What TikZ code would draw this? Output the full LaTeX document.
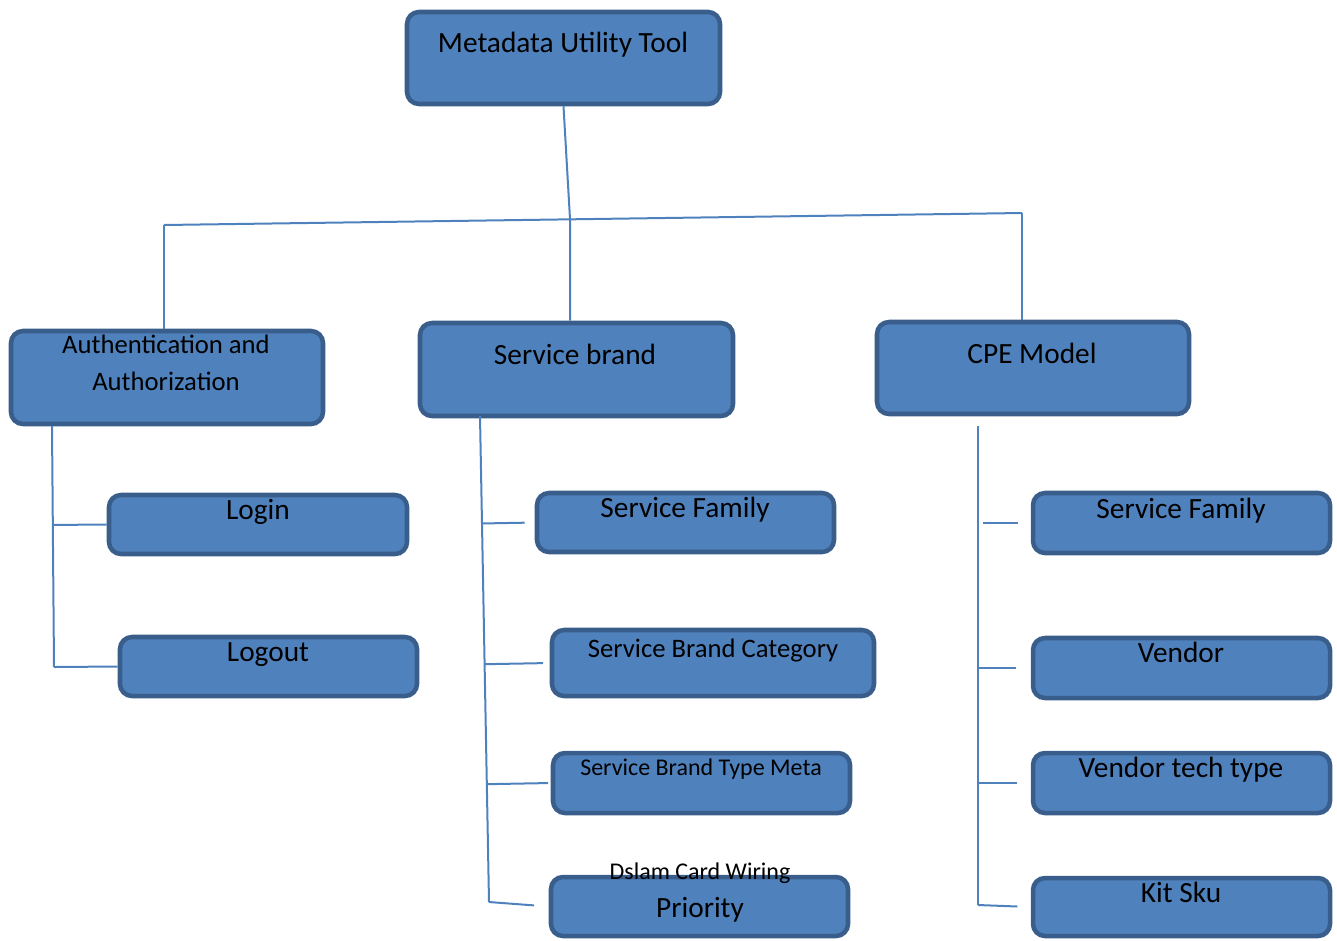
\documentclass[tikz,border=0pt]{standalone}
\usepackage{fontspec}
\setmainfont{Carlito}
\usetikzlibrary{fit,calc}
\definecolor{boxfill}{HTML}{4F81BD}
\definecolor{boxline}{HTML}{3A5E8C}
\definecolor{linkblue}{HTML}{4F81BD}
\tikzset{bbox/.style={
    rectangle,
    draw=boxline,
    fill=boxfill,
    line width=3.4pt,
    rounded corners=9pt,
    inner sep=0pt
  },
  btext/.style={anchor=base,inner sep=0pt,font=\fontsize{22}{26}\selectfont},
  mtext/.style={btext,font=\fontsize{20}{27.75}\selectfont},
  stext/.style={btext,font=\fontsize{18}{22}\selectfont},
  link/.style={draw=linkblue,line width=1.5pt},
}
\begin{document}
\begin{tikzpicture}[x=0.75pt,y=-0.75pt]
  \useasboundingbox (0,0) rectangle (1337,940);
  % boxes
  \node [bbox,fit={(407,12) (720,104)}] (mut) {};
  \node [bbox,fit={(11,331) (323,424)}] (auth) {};
  \node [bbox,fit={(420,323) (733,416)}] (sb) {};
  \node [bbox,fit={(877,322) (1189,414)}] (cpe) {};
  \node [bbox,fit={(109,495) (407,554)}] (login) {};
  \node [bbox,fit={(120,637) (417,696)}] (logout) {};
  \node [bbox,fit={(537,493) (834,552)}] (sf) {};
  \node [bbox,fit={(552,630) (874,696)}] (sbc) {};
  \node [bbox,fit={(553,753) (850,813)}] (sbt) {};
  \node [bbox,fit={(551,877) (848,936)}] (prio) {};
  \node [bbox,fit={(1033,493) (1330,553)}] (cpesf) {};
  \node [bbox,fit={(1033,638) (1330,698)}] (vendor) {};
  \node [bbox,fit={(1033,753) (1330,813)}] (vtt) {};
  \node [bbox,fit={(1033,878) (1330,936)}] (kitsku) {};
  % labels
  \node [btext] (mutlabel) at (563,52) {Metadata Utility Tool};
  \node [mtext,align=center] (authlabel) at (166,390) {Authentication and\\Authorization};
  \node [btext] (sblabel) at (575,364) {Service brand};
  \node [btext] (cpelabel) at (1032,363) {CPE Model};
  \node [btext] (loginlabel) at (258,519) {Login};
  \node [btext] (logoutlabel) at (268,661) {Logout};
  \node [btext] (sflabel) at (685,517) {Service Family};
  \node [mtext] (sbclabel) at (713,657) {Service Brand Category};
  \node [stext] (sbtlabel) at (701,775) {Service Brand Type Meta};
  \node [stext] (dslamlabel) at (700,879) {Dslam Card Wiring};
  \node [btext] (priolabel) at (700,917) {Priority};
  \node [btext] (cpesflabel) at (1181,518) {Service Family};
  \node [btext] (vendorlabel) at (1181,662) {Vendor};
  \node [btext] (vttlabel) at (1181,777) {Vendor tech type};
  \node [btext] (kitskulabel) at (1181,902) {Kit Sku};
  % top level
  \coordinate (jl) at (164,225);
  \coordinate (jm) at (570,219);
  \coordinate (jr) at (1022,213);
  \draw[link] (mut.south) -- (jm) -- (jm |- sb.north);
  \draw[link] (jl) -- (jr);
  \draw[link] (jl) -- (jl |- auth.north);
  \draw[link] (jr) -- (jr |- cpe.north);
  % authentication branch
  \coordinate (atop) at (52,426);
  \coordinate (abot) at (54,667);
  \draw[link] (atop) -- (abot);
  \draw[link] ($(atop)!(login.west)!(abot)$) -- (login.west);
  \draw[link] (abot) -- (logout.west);
  % service brand branch
  \coordinate (stop) at (480,416);
  \coordinate (sbot) at (489,902);
  \draw[link] (stop) -- (sbot);
  \draw[link,shorten >=7.5pt] ($(stop)!(sf.west)!(sbot)$) -- (sf.west);
  \draw[link,shorten >=5pt] ($(stop)!(sbc.west)!(sbot)$) -- (sbc.west);
  \draw[link,shorten >=2pt] ($(stop)!(sbt.west)!(sbot)$) -- (sbt.west);
  \draw[link,shorten >=11pt] (sbot) -- (prio.west);
  % cpe branch
  \coordinate (ctop) at (978,426);
  \coordinate (cbot) at (978,905);
  \draw[link] (ctop) -- (cbot);
  \draw[link,shorten <=3.5pt,shorten >=9.75pt] ($(ctop)!(cpesf.west)!(cbot)$) -- (cpesf.west);
  \draw[link,shorten >=11pt] ($(ctop)!(vendor.west)!(cbot)$) -- (vendor.west);
  \draw[link,shorten >=10pt] ($(ctop)!(vtt.west)!(cbot)$) -- (vtt.west);
  \draw[link,shorten >=10pt] (cbot) -- (kitsku.west);
\end{tikzpicture}
\end{document}
